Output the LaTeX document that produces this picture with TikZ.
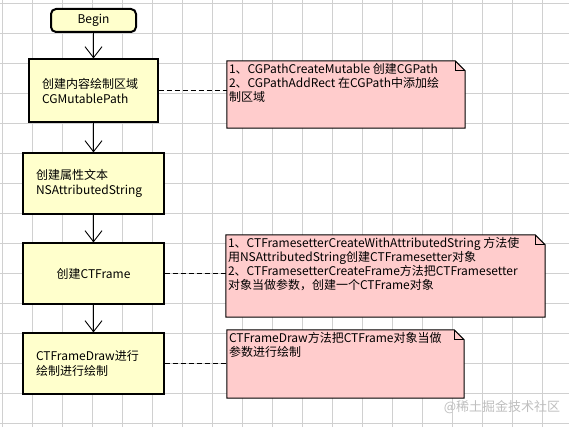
\documentclass[tikz,border=0pt]{standalone}
\usepackage{fontspec}
\setmainfont{Noto Sans CJK SC}
\usetikzlibrary{arrows.meta, backgrounds, calc}

\definecolor{boxyellow}{RGB}{255,255,204}
\definecolor{notepink}{RGB}{255,204,204}
\definecolor{gridgray}{RGB}{208,208,208}

\tikzset{
	procbox/.style={draw, line width=1.2pt, fill=boxyellow, minimum width=141pt,
        minimum height=61pt, text width=115pt, inner xsep=13pt, align=left,
        font=\fontsize{12}{15}\selectfont},
	beginbox/.style={draw, line width=2pt, fill=boxyellow, rounded corners=5pt,
        minimum width=85pt, minimum height=23pt, font=\fontsize{12}{15}\selectfont},
	notearea/.style={inner sep=0pt},
	notetext/.style={anchor=north west, inner xsep=2pt, inner ysep=2.5pt, align=left,
        font=\fontsize{12}{14}\selectfont},
	flow/.style={-{Straight Barb[length=11pt, width=17pt]}, line width=0.9pt},
	link/.style={dash pattern=on 5pt off 3pt, line width=0.9pt}
}

% dog-eared outline round a note area
\newcommand{\notefold}[1]{%
	\draw[fill=notepink, line width=1pt] (#1.north west) -- ([xshift=-10pt]#1.north east)
        -- ([yshift=-10pt]#1.north east) -- (#1.south east) -- (#1.south west) -- cycle;
	\draw[line width=0.8pt] ([xshift=-10pt]#1.north east) |- ([yshift=-10pt]#1.north east);
}

\begin{document}
\begin{tikzpicture}[x=1pt, y=-1pt]
	\useasboundingbox (0,0) rectangle (569,427);

	\begin{scope}[on background layer]
	\fill[white] (0,0) rectangle (569,427);
	\foreach \gx in {2,32,...,542}
		\draw[gridgray, line width=0.7pt] (\gx,0) -- (\gx,427);
	\foreach \gy in {3,33,...,423}
		\draw[gridgray, line width=0.7pt] (0,\gy) -- (569,\gy);
	\end{scope}

	% flow boxes
	\node (begin) at (93.5, 20.5) [beginbox] {Begin};
	\node (path) at (93.5, 90.5) [procbox, minimum width=129pt, minimum height=63pt,
        text width=103pt] {创建内容绘制区域\\CGMutablePath};
	\node (attr) at (93.5, 183.5) [procbox] {创建属性文本\\NSAttributedString};
	\node (frame) at (93.5, 273.5) [procbox, align=center] {创建CTFrame};
	\node (draw) at (93.5, 363.5) [procbox] {CTFrameDraw进行\\绘制进行绘制};

	% notes
	\node (note1) at (346, 94.5) [notearea, minimum width=238pt, minimum height=67pt] {};
	\node (note2) at (385.5, 276) [notearea, minimum width=319pt, minimum height=82pt] {};
	\node (note3) at (345.5, 364) [notearea, minimum width=237pt, minimum height=68pt] {};
	\begin{scope}[on background layer]
	\notefold{note1}
	\notefold{note2}
	\notefold{note3}
	\end{scope}
	\node (text1) at (note1.north west) [notetext]
        {1、CGPathCreateMutable 创建CGPath\\2、CGPathAddRect 在CGPath中添加绘\\制区域};
	\node (text2) at (note2.north west) [notetext]
        {1、CTFramesetterCreateWithAttributedString 方法使\\用NSAttributedString创建CTFramesetter对象\\2、CTFramesetterCreateFrame方法把CTFramesetter\\对象当做参数，创建一个CTFrame对象};
	\node (text3) at (note3.north west) [notetext]
        {CTFrameDraw方法把CTFrame对象当做\\参数进行绘制};

	% connectors
	\draw[flow] (begin.south) -- (path.north);
	\draw[flow] (path.south) -- (attr.north);
	\draw[flow] (attr.south) -- (frame.north);
	\draw[flow] (frame.south) -- (draw.north);
	\draw[link] (path.east) -- (path.east -| note1.west);
	\draw[link] (frame.east) -- (frame.east -| note2.west);
	\draw[link] (draw.east) -- (draw.east -| note3.west);

	\node (mark) at (502, 407) [text=gray!50, font=\fontsize{13}{13}\selectfont] {@稀土掘金技术社区};
\end{tikzpicture}
\end{document}
